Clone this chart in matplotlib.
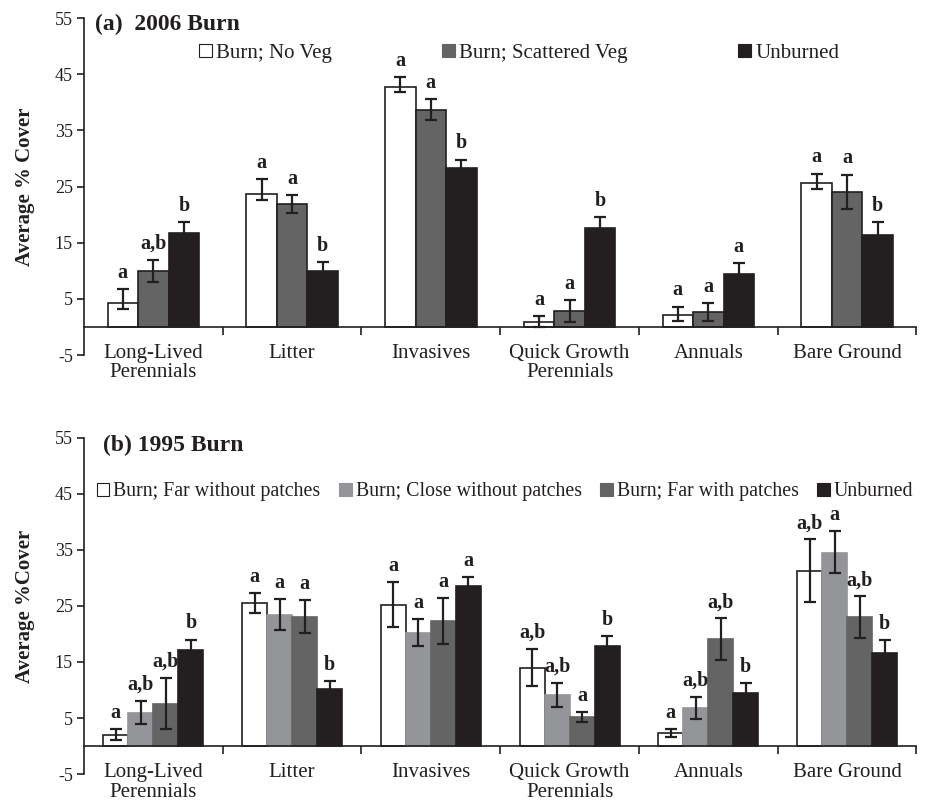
import matplotlib
matplotlib.use("Agg")
import matplotlib.pyplot as plt
from matplotlib.patches import Patch
import numpy as np

plt.rcParams['font.family'] = ['Liberation Serif', 'DejaVu Serif']
plt.rcParams['axes.unicode_minus'] = False

categories = ["Long-Lived\nPerennials", "Litter", "Invasives", "Quick Growth\nPerennials", "Annuals", "Bare Ground"]

# Panel (a) 2006 Burn
a_series = ["Burn; No Veg", "Burn; Scattered Veg", "Unburned"]
a_vals = [
    [4.2, 23.7, 42.8, 0.8, 2.2, 25.6],
    [10.0, 21.8, 38.6, 2.8, 2.6, 24.0],
    [16.8, 10.0, 28.3, 17.6, 9.5, 16.4],
]
a_err_hi = [
    [6.7, 26.3, 44.5, 1.9, 3.6, 27.3],
    [12.0, 23.5, 40.5, 4.8, 4.2, 27.1],
    [18.7, 11.5, 29.8, 19.5, 11.3, 18.6],
]
a_err_lo = [
    [3.2, 22.6, 41.8, -0.1, 1.1, 24.5],
    [8.0, 20.2, 36.8, 0.8, 1.0, 21.0],
    [14.9, 8.5, 26.8, 15.7, 7.7, 14.2],
]
a_letters = [
    ["a", "a", "a", "a", "a", "a"],
    ["a,b", "a", "a", "a", "a", "a"],
    ["b", "b", "b", "b", "a", "b"],
]

# Panel (b) 1995 Burn
b_series = ["Burn; Far without patches", "Burn; Close without patches", "Burn; Far with patches", "Unburned"]
b_vals = [
    [2.0, 25.5, 25.2, 14.0, 2.3, 31.2],
    [5.9, 23.4, 20.2, 9.1, 6.7, 34.5],
    [7.5, 23.0, 22.3, 5.1, 19.1, 23.0],
    [17.1, 10.1, 28.6, 17.8, 9.5, 16.6],
]
b_err_hi = [
    [3.0, 27.3, 29.2, 17.4, 3.0, 36.9],
    [8.05, 26.3, 22.7, 11.2, 8.8, 38.4],
    [12.1, 26.0, 26.4, 6.0, 22.8, 26.7],
    [19.0, 11.6, 30.1, 19.6, 11.3, 18.9],
]
b_err_lo = [
    [1.1, 23.7, 21.2, 10.7, 1.6, 25.7],
    [3.9, 20.8, 17.9, 7.0, 4.8, 30.9],
    [3.0, 20.2, 18.3, 4.3, 15.4, 19.3],
    [15.2, 8.6, 27.1, 16.0, 7.7, 14.3],
]
b_letters = [
    ["a", "a", "a", "a,b", "a", "a,b"],
    ["a,b", "a", "a", "a,b", "a,b", "a"],
    ["a,b", "a", "a", "a", "a,b", "a,b"],
    ["b", "b", "a", "b", "b", "b"],
]

yticks = [-5, 5, 15, 25, 35, 45, 55]

fig = plt.figure(figsize=(9.27, 8.01), dpi=100)
ax1 = fig.add_axes([0.0906, 0.5568, 0.898, 0.4207])
ax2 = fig.add_axes([0.0906, 0.0337, 0.898, 0.4195])

INK = '#231f20'


def draw(ax, series, vals, hi, lo, letters, colors, edges, width, title, title_xy,
         ylabel, leg_xy, colspace, legsize):
    n = len(series)
    x = np.arange(len(categories))
    handles = []
    for i in range(n):
        pos = x + (i - (n - 1) / 2) * width
        v = np.array(vals[i])
        yerr = [v - np.array(lo[i]), np.array(hi[i]) - v]
        ax.bar(pos, v, width, color=colors[i], edgecolor=edges[i], linewidth=1.2, zorder=2)
        ax.errorbar(pos, v, yerr=yerr, fmt='none', ecolor=INK, elinewidth=1.6,
                    capsize=4, capthick=1.6, zorder=3)
        for p, h, t in zip(pos, hi[i], letters[i]):
            ax.text(p, h + 2.0, t, ha='center', va='baseline', fontsize=14.5, fontweight='bold',
                    color=INK)
        handles.append(Patch(facecolor=colors[i], edgecolor=INK if colors[i] == 'white' else colors[i],
                             linewidth=0.8))
    ax.set_xlim(-0.5, len(categories) - 0.5)
    ax.set_ylim(-5, 55)
    ax.set_yticks(yticks)
    ax.tick_params(axis='y', direction='out', length=5, width=1.2, labelsize=13, pad=3,
                   colors=INK)
    ax.spines['top'].set_visible(False)
    ax.spines['right'].set_visible(False)
    ax.spines['left'].set_linewidth(1.2)
    ax.spines['left'].set_color(INK)
    ax.spines['bottom'].set_position(('data', 0))
    ax.spines['bottom'].set_linewidth(1.2)
    ax.spines['bottom'].set_color(INK)
    ax.set_xticks(np.arange(len(categories)) + 0.5)
    ax.set_xticklabels([])
    ax.tick_params(axis='x', direction='out', length=6, width=1.2, colors=INK)
    for i, c in enumerate(categories):
        ax.text(i, -3.0, c, ha='center', va='top', fontsize=15, linespacing=1.05,
                color=INK, clip_on=False)
    ax.text(title_xy[0], title_xy[1], title, ha='left', va='top', fontsize=17,
            fontweight='bold', color=INK)
    ax.set_ylabel(ylabel, fontsize=15, fontweight='bold', color=INK, labelpad=14)
    leg = ax.legend(handles, series, loc='center left', bbox_to_anchor=leg_xy, ncol=n,
                    frameon=False, fontsize=legsize, handlelength=0.62, handleheight=0.62,
                    handletextpad=0.2, columnspacing=colspace, borderpad=0, borderaxespad=0)
    for t in leg.get_texts():
        t.set_color(INK)


draw(ax1, a_series, a_vals, a_err_hi, a_err_lo, a_letters,
     ['white', '#646464', INK], [INK, INK, INK], 0.22,
     "(a)  2006 Burn", (-0.42, 55.8), "Average % Cover", (0.138, 0.896), 5.3, 15)

draw(ax2, b_series, b_vals, b_err_hi, b_err_lo, b_letters,
     ['white', '#939598', '#646464', INK], [INK, '#939598', '#646464', INK], 0.18,
     "(b) 1995 Burn", (-0.36, 55.6), "Average %Cover", (0.0156, 0.84), 0.95, 14.3)

fig.savefig("out.png", dpi=100)
